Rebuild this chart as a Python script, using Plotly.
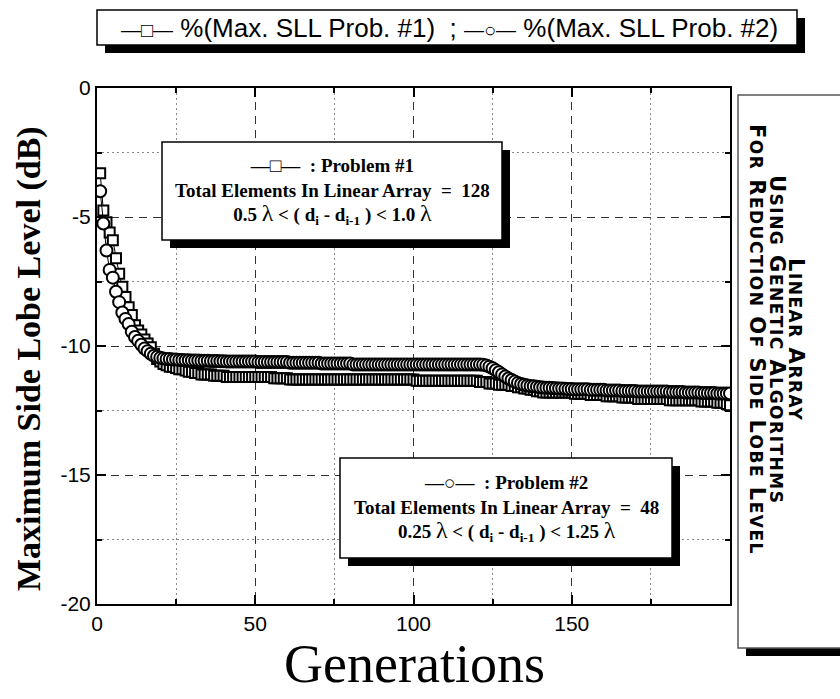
import plotly.graph_objects as go

# ---------------- data ----------------
generations = list(range(1, 201))

sll_prob1 = [
    -3.3, -4.75, -5.2, -5.6, -5.9, -6.6, -7.2, -7.7, -8.1, -8.5,
    -8.8, -9.2, -9.4, -9.55, -9.75, -9.9, -10.05, -10.3, -10.5, -10.6,
    -10.7, -10.75, -10.8, -10.8, -10.85, -10.9, -10.9, -10.95, -11.0, -11.0,
    -11.05, -11.05, -11.1, -11.1, -11.1, -11.1, -11.15, -11.15, -11.15, -11.15,
    -11.2, -11.2, -11.2, -11.2, -11.2, -11.2, -11.2, -11.2, -11.2, -11.2,
    -11.2, -11.2, -11.2, -11.2, -11.2, -11.25, -11.25, -11.25, -11.25, -11.25,
    -11.3, -11.3, -11.3, -11.3, -11.3, -11.3, -11.3, -11.3, -11.3, -11.3,
    -11.3, -11.3, -11.3, -11.3, -11.3, -11.3, -11.3, -11.3, -11.3, -11.3,
    -11.3, -11.3, -11.3, -11.3, -11.3, -11.3, -11.3, -11.3, -11.3, -11.3,
    -11.3, -11.3, -11.3, -11.3, -11.3, -11.3, -11.3, -11.3, -11.3, -11.3,
    -11.35, -11.35, -11.35, -11.35, -11.35, -11.35, -11.35, -11.35, -11.35, -11.35,
    -11.35, -11.35, -11.35, -11.35, -11.35, -11.35, -11.35, -11.35, -11.35, -11.35,
    -11.4, -11.4, -11.4, -11.45, -11.45, -11.45, -11.5, -11.5, -11.5, -11.5,
    -11.55, -11.55, -11.6, -11.6, -11.65, -11.65, -11.7, -11.7, -11.75, -11.75,
    -11.8, -11.8, -11.8, -11.8, -11.8, -11.8, -11.8, -11.8, -11.8, -11.8,
    -11.85, -11.85, -11.85, -11.85, -11.85, -11.9, -11.9, -11.9, -11.9, -11.9,
    -11.95, -11.95, -11.95, -11.95, -11.95, -12.0, -12.0, -12.0, -12.0, -12.0,
    -12.05, -12.05, -12.05, -12.05, -12.05, -12.05, -12.05, -12.05, -12.05, -12.05,
    -12.1, -12.1, -12.1, -12.1, -12.1, -12.1, -12.1, -12.1, -12.1, -12.1,
    -12.15, -12.15, -12.15, -12.15, -12.15, -12.2, -12.2, -12.2, -12.25, -12.3,
]

sll_prob2 = [
    -4.0, -5.25, -6.3, -7.05, -7.35, -7.9, -8.3, -8.7, -8.95, -9.15,
    -9.45, -9.65, -9.8, -9.95, -10.1, -10.2, -10.3, -10.38, -10.42, -10.46,
    -10.48, -10.5, -10.5, -10.52, -10.52, -10.54, -10.54, -10.55, -10.55, -10.56,
    -10.56, -10.56, -10.57, -10.57, -10.57, -10.58, -10.58, -10.58, -10.59, -10.59,
    -10.6, -10.6, -10.6, -10.6, -10.6, -10.6, -10.6, -10.6, -10.6, -10.6,
    -10.62, -10.62, -10.62, -10.62, -10.62, -10.62, -10.62, -10.62, -10.62, -10.62,
    -10.65, -10.65, -10.65, -10.65, -10.65, -10.65, -10.65, -10.65, -10.65, -10.65,
    -10.68, -10.68, -10.68, -10.68, -10.68, -10.68, -10.68, -10.68, -10.68, -10.68,
    -10.72, -10.72, -10.72, -10.72, -10.72, -10.72, -10.72, -10.72, -10.72, -10.72,
    -10.72, -10.72, -10.72, -10.72, -10.72, -10.72, -10.72, -10.72, -10.72, -10.72,
    -10.72, -10.72, -10.72, -10.72, -10.72, -10.72, -10.72, -10.72, -10.72, -10.72,
    -10.72, -10.72, -10.72, -10.72, -10.72, -10.72, -10.72, -10.72, -10.72, -10.72,
    -10.72, -10.73, -10.76, -10.8, -10.86, -10.94, -11.02, -11.1, -11.18, -11.26,
    -11.32, -11.38, -11.43, -11.47, -11.5, -11.53, -11.55, -11.56, -11.58, -11.6,
    -11.61, -11.62, -11.62, -11.63, -11.64, -11.65, -11.65, -11.66, -11.67, -11.67,
    -11.68, -11.68, -11.68, -11.68, -11.68, -11.7, -11.7, -11.7, -11.7, -11.7,
    -11.72, -11.72, -11.72, -11.72, -11.72, -11.74, -11.74, -11.74, -11.74, -11.74,
    -11.76, -11.76, -11.76, -11.76, -11.76, -11.76, -11.76, -11.76, -11.76, -11.76,
    -11.78, -11.78, -11.78, -11.78, -11.78, -11.8, -11.8, -11.8, -11.8, -11.8,
    -11.82, -11.82, -11.82, -11.82, -11.82, -11.84, -11.84, -11.84, -11.84, -11.84,
]

x_tick_vals = [0, 50, 100, 150]
x_tick_text = ["0", "50", "100", "150"]
x_minor_vals = [25, 75, 125, 175]
y_tick_vals = [0, -5, -10, -15, -20]
y_tick_text = ["0", "-5", "-10", "-15", "-20"]
y_minor_vals = [-2.5, -7.5, -12.5, -17.5]

# ---------------- layout helpers ----------------
W, H = 840, 699
ML, MR, MT, MB = 97, 110, 88, 95
PW, PH = W - ML - MR, H - MT - MB


def px(x):
    return (x - ML) / PW


def py(y):
    return (H - MB - y) / PH


fig = go.Figure()
fig.add_trace(go.Scatter(
    x=generations, y=sll_prob1, mode="lines+markers", name="%(Max. SLL Prob. #1)",
    line=dict(color="black", width=1),
    marker=dict(symbol="square", size=10, color="white", line=dict(color="black", width=2)),
    showlegend=False,
))
fig.add_trace(go.Scatter(
    x=generations, y=sll_prob2, mode="lines+markers", name="%(Max. SLL Prob. #2)",
    line=dict(color="black", width=1),
    marker=dict(symbol="circle", size=12, color="white", line=dict(color="black", width=2)),
    showlegend=False,
))

tickfont = dict(family="Liberation Sans, Arial, sans-serif", size=21, color="black")
axis_common = dict(
    ticks="inside", ticklen=9, tickwidth=1.5, tickcolor="black",
    showline=True, linecolor="black", linewidth=2, mirror="ticks",
    showgrid=True, gridcolor="#333", griddash="8px,6px", gridwidth=1,
    zeroline=False, tickfont=tickfont,
)

fig.update_layout(
    width=W, height=H,
    margin=dict(l=ML, r=MR, t=MT, b=MB),
    paper_bgcolor="white", plot_bgcolor="white",
    xaxis=dict(range=[0, 200], tickmode="array", tickvals=x_tick_vals, ticktext=x_tick_text,
               minor=dict(tickmode="array", tickvals=x_minor_vals, ticks="inside", ticklen=5,
                          tickcolor="black", showgrid=True, griddash="2px,3px", gridcolor="#888"),
               **axis_common),
    yaxis=dict(range=[-20, 0], tickmode="array", tickvals=y_tick_vals, ticktext=y_tick_text,
               minor=dict(tickmode="array", tickvals=y_minor_vals, ticks="inside", ticklen=5,
                          tickcolor="black", showgrid=True, griddash="2px,3px", gridcolor="#888"),
               **axis_common),
)

SH = 8  # shadow offset


def boxed(x0, y0, x1, y1, line_color="black", lw=1.5):
    return [
        dict(type="rect", xref="paper", yref="paper", layer="above",
             x0=px(x0 + SH), x1=px(x1 + SH), y0=py(y0 + SH), y1=py(y1 + SH),
             fillcolor="black", line=dict(width=0)),
        dict(type="rect", xref="paper", yref="paper", layer="above",
             x0=px(x0), x1=px(x1), y0=py(y0), y1=py(y1),
             fillcolor="white", line=dict(color=line_color, width=lw)),
    ]


shapes = []
shapes += boxed(97, 10, 797, 45)
shapes += boxed(162, 142, 502, 240)
shapes += boxed(340, 458, 672, 558)
shapes += boxed(738, 95, 860, 648, line_color="#555")
fig.update_layout(shapes=shapes)

serif = "Liberation Serif, Times New Roman, serif"
sans = "Liberation Sans, Arial, sans-serif"
lam = "<span style='font-weight:normal;font-size:24px'>λ</span>"

annotations = [
    # top legend-like box
    dict(x=px(449), y=py(28), xref="paper", yref="paper", showarrow=False,
         xanchor="center", yanchor="middle",
         text="<span style='font-size:20px'>—□—</span> %(Max. SLL Prob. #1)  ; "
              "<span style='font-size:20px'>—○—</span> %(Max. SLL Prob. #2)",
         font=dict(family=sans, size=26, color="black")),
    # problem 1 box
    dict(x=px(332), y=py(191), xref="paper", yref="paper", showarrow=False,
         xanchor="center", yanchor="middle", align="center",
         text="—□—  : Problem #1<br>Total Elements In Linear Array  =  128<br>"
              "0.5 " + lam + " < ( d<sub>i</sub> - d<sub>i-1</sub> ) < 1.0 " + lam,
         font=dict(family=serif, size=19, color="black", weight="bold")),
    # problem 2 box
    dict(x=px(506), y=py(508), xref="paper", yref="paper", showarrow=False,
         xanchor="center", yanchor="middle", align="center",
         text="—○—  : Problem #2<br>Total Elements In Linear Array  =  48<br>"
              "0.25 " + lam + " < ( d<sub>i</sub> - d<sub>i-1</sub> ) < 1.25 " + lam,
         font=dict(family=serif, size=19, color="black", weight="bold")),
    # axis titles
    dict(x=px(29), y=py(359), xref="paper", yref="paper", showarrow=False,
         xanchor="center", yanchor="middle", textangle=-90,
         text="Maximum Side Lobe Level (dB)",
         font=dict(family=serif, size=34, color="black", weight="bold")),
    dict(x=px(414), y=py(664), xref="paper", yref="paper", showarrow=False,
         xanchor="center", yanchor="middle", borderpad=0,
         text="Generations",
         font=dict(family=serif, size=54, color="black")),
]


def small_caps(s, small=17):
    out = []
    for word in s.split(" "):
        out.append(word[0] + "<span style='font-size:%dpx'>%s</span>" % (small, word[1:]))
    return "<span style='letter-spacing:1.5px'>" + " ".join(out) + "</span>"


side_lines = ["LINEAR ARRAY", "USING GENETIC ALGORITHMS", "FOR REDUCTION OF SIDE LOBE LEVEL"]
side_x = [796, 777, 757]
for line, xx in zip(side_lines, side_x):
    annotations.append(dict(
        x=px(xx), y=py(339), xref="paper", yref="paper", showarrow=False,
        xanchor="center", yanchor="middle", textangle=90,
        text=small_caps(line),
        font=dict(family="DejaVu Sans, sans-serif", size=21, color="black", weight="bold"),
    ))

fig.update_layout(annotations=annotations)

fig.write_html("out.html")
